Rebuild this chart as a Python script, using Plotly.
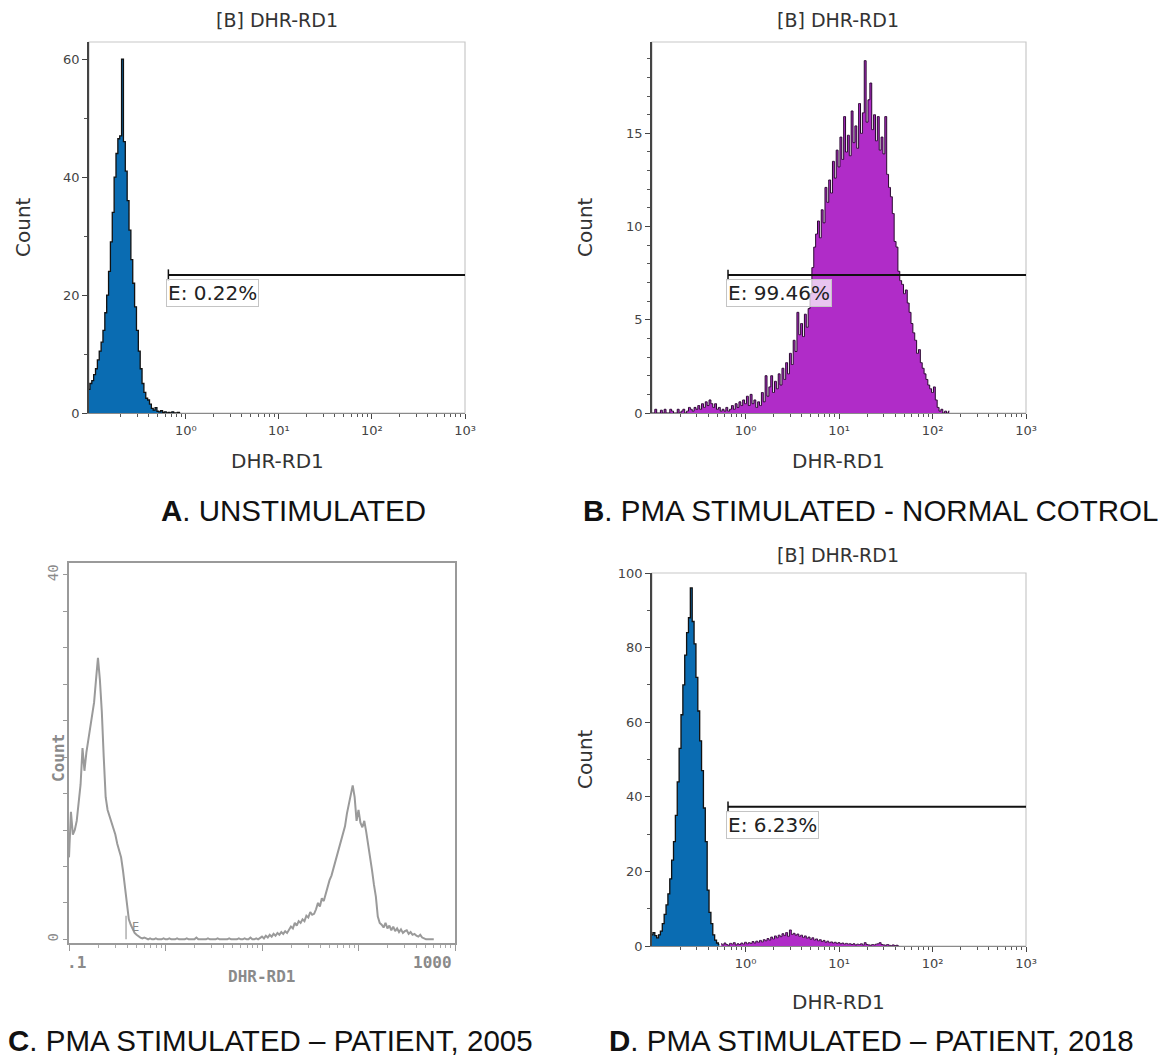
import math
import plotly.graph_objects as go

W, H = 1166, 1057

# ---------------- data (bin centres in log10(DHR-RD1), counts) ----------------
a_start, a_step = -1.04, 0.02
a_counts = [4, 5, 5.5, 6.5, 7.5, 9, 10.5, 12, 14, 17,
            20, 24, 29, 34, 40, 44, 46.5, 47, 60, 46,
            41, 36, 31, 26, 22, 18, 14, 10.5, 7.5, 5,
            3.5, 2.5, 2.2, 1.5, 0.8, 0.5, 0.9, 0.3, 0.2, 0.4,
            0.1, 0.2, 0, 0.1, 0, 0.2, 0, 0, 0.1, 0]

b_start, b_step = -1.00, 0.02
b_counts = [0, 0, 0.2, 0, 0, 0.15, 0, 0.2, 0, 0,
            0.2, 0.1, 0, 0, 0.2, 0, 0.1, 0.2, 0, 0.1,
            0.3, 0.2, 0.1, 0.3, 0.2, 0.4, 0.2, 0.5, 0.3, 0.6,
            0.4, 0.7, 0.5, 0.3, 0.5, 0.2, 0.3, 0.1, 0.2, 0.1,
            0.3, 0.1, 0.2, 0.4, 0.2, 0.5, 0.3, 0.6, 0.4, 0.7,
            0.5, 0.9, 0.4, 1.0, 0.5, 0.7, 0.3, 0.6, 0.4, 1.1,
            0.6, 2.0, 0.9, 1.4, 2.0, 1.1, 1.7, 1.3, 2.1, 1.5,
            2.4, 1.8, 2.7, 2.1, 3.2, 2.6, 3.9, 3.3, 5.4, 4.2,
            4.8, 4.1, 5.3, 4.6, 5.6, 6.4, 7.8, 8.9, 9.6, 10.3,
            9.4, 10.9, 10.2, 12.1, 11.3, 12.5, 11.8, 13.5, 12.6, 14.1,
            13.2, 14.8, 13.6, 15.9, 14.0, 14.9, 13.8, 16.2, 14.5, 15.4,
            14.2, 16.6, 15.0, 16.1, 18.9, 15.6, 16.8, 17.7, 15.2, 16.0,
            14.6, 15.9, 14.1, 14.8, 13.9, 15.9, 12.8, 12.1, 11.6, 10.7,
            9.2, 8.9, 7.6, 7.1, 6.9, 6.4, 6.6, 5.9, 5.4, 4.8,
            4.3, 3.9, 3.2, 3.4, 2.7, 2.4, 2.1, 1.8, 1.5, 1.3,
            1.1, 1.4, 0.7, 0.3, 0.1, 0.2, 0, 0.1, 0, 0.1]

c_start, c_step = -1.00, 0.02
c_counts = [9, 14, 11.5, 12, 13, 15, 17, 21, 18.5, 20.5,
            22, 23.5, 24.5, 26, 28.5, 30.9, 28.5, 25, 20, 15.6,
            14.2, 13.5, 13, 12.3, 11.5, 10.5, 9.8, 9, 7.5, 5.5,
            3.5, 2.2, 1.6, 1.1, 0.7, 0.5, 0.3, 0.2, 0.1, 0.2,
            0.1, 0, 0.1, 0, 0, 0.1, 0, 0, 0, 0.1,
            0, 0, 0.1, 0, 0, 0, 0.1, 0, 0, 0,
            0, 0.1, 0, 0, 0, 0, 0.2, 0, 0, 0,
            0, 0, 0.1, 0, 0, 0, 0, 0.1, 0, 0,
            0, 0, 0, 0.1, 0, 0, 0, 0, 0.1, 0,
            0, 0.1, 0, 0, 0.2, 0, 0, 0.1, 0, 0.2,
            0.3, 0.1, 0.4, 0.2, 0.5, 0.3, 0.6, 0.4, 0.7, 0.5,
            0.8, 0.6, 0.9, 0.7, 1.1, 1.4, 1.2, 1.8, 1.5, 2.0,
            1.8, 2.2, 2.0, 2.6, 2.4, 3.0, 2.7, 2.8, 3.3, 4.0,
            3.6, 4.5, 4.2, 5.0, 5.8, 6.5, 7.0, 7.8, 8.3, 9.2,
            10.1, 10.8, 11.6, 12.4, 13.8, 14.8, 15.6, 16.9, 15.6, 13.0,
            14.2, 12.8, 12.3, 13.0, 11.8, 10.5, 9.2, 7.6, 6.0, 4.7,
            2.5, 1.8, 1.6, 1.3, 1.8, 1.2, 1.5, 1.0, 1.4, 0.9,
            1.2, 0.8, 1.1, 0.7, 0.9, 1.0, 0.6, 0.8, 0.5, 0.6,
            0.4, 0.3, 0.5, 0.2, 0.1, 0, 0, 0, 0, 0]

d_blue_start, d_step = -1.00, 0.02
d_blue_counts = [3.0, 3.6, 2.8, 2.2, 3.0, 4.0, 6.0, 8.5, 11, 14,
                 18, 23, 28, 35, 44, 53, 62, 70, 78, 84,
                 88, 96, 87, 81, 72, 63, 55, 47, 37, 28,
                 15, 9, 6, 3, 1.6, 0.8, 0.4]
d_purple_start = -0.26
d_purple_counts = [0.6, 0.3, 0.8, 0.4, 0.2, 0.7, 0.5, 0.9, 0.3, 0.6,
                   0.4, 0.8, 0.5, 1.0, 0.6, 0.9, 0.7, 1.2, 0.8, 1.3,
                   1.0, 1.5, 1.1, 1.7, 1.4, 2.0, 1.6, 2.4, 1.9, 2.7,
                   2.2, 2.9, 2.5, 3.3, 2.8, 3.6, 2.6, 4.3, 3.1, 3.4,
                   2.9, 3.2, 2.6, 2.9, 2.3, 2.7, 2.1, 2.4, 1.8, 2.2,
                   1.6, 1.9, 1.4, 1.7, 1.2, 1.5, 1.0, 1.3, 0.9, 1.1,
                   0.8, 1.0, 0.7, 0.9, 0.6, 0.8, 0.5, 0.7, 0.5, 0.6,
                   0.4, 0.6, 0.3, 0.5, 0.4, 0.6, 0.3, 0.9, 0.4, 0.3,
                   0.2, 0.4, 0.3, 0.5, 0.6, 0.9, 0.4, 0.3, 0.2, 0.4,
                   0.2, 0.1, 0.3, 0.1, 0.2, 0]

gate_start = 0.65
gate_levels = {"A": 23.4, "B": 7.4, "D": 37.3}
gate_labels = {"A": "E: 0.22%", "B": "E: 99.46%", "D": "E: 6.23%"}

x_tickvals = [1, 10, 100, 1000]
x_ticktext = ["10\u2070", "10\u00b9", "10\u00b2", "10\u00b3"]

captions = {
    "A": "<b>A</b>. UNSTIMULATED",
    "B": "<b>B</b>. PMA STIMULATED - NORMAL COTROL",
    "C": "<b>C</b>. PMA STIMULATED \u2013 PATIENT, 2005",
    "D": "<b>D</b>. PMA STIMULATED \u2013 PATIENT, 2018",
}

BLUE = "#0A6CB2"
PURPLE = "#B02CC8"


def xs(start, step, counts):
    return [10 ** round(start + step * i, 3) for i in range(len(counts))]


minor_log = [m * 10 ** k for k in range(-1, 3) for m in range(2, 10)]

# the page body has an 8 px margin, so the figure is drawn 8 px right/down
OX, OY = 8.0, 8.0


def fx(px):
    return (px - OX) / W


def fy(py):
    return 1 - (py - OY) / H


fig = go.Figure()

# ---- histograms ----
fig.add_trace(go.Scatter(x=xs(a_start, a_step, a_counts), y=a_counts, mode="lines",
                         line=dict(shape="hvh", color="#111", width=1.3),
                         fill="tozeroy", fillcolor=BLUE, xaxis="x", yaxis="y"))
fig.add_trace(go.Scatter(x=xs(b_start, b_step, b_counts), y=b_counts, mode="lines",
                         line=dict(shape="hvh", color="#2a0830", width=1),
                         fill="tozeroy", fillcolor=PURPLE, xaxis="x2", yaxis="y2"))
fig.add_trace(go.Scatter(x=xs(c_start, c_step, c_counts), y=c_counts, mode="lines",
                         line=dict(color="#9a9a9a", width=2),
                         xaxis="x3", yaxis="y3"))
fig.add_trace(go.Scatter(x=xs(d_blue_start, d_step, d_blue_counts), y=d_blue_counts, mode="lines",
                         line=dict(shape="hvh", color="#111", width=1.3),
                         fill="tozeroy", fillcolor=BLUE, xaxis="x4", yaxis="y4"))
fig.add_trace(go.Scatter(x=xs(d_purple_start, d_step, d_purple_counts), y=d_purple_counts, mode="lines",
                         line=dict(shape="hvh", color="#3a1040", width=1),
                         fill="tozeroy", fillcolor=PURPLE, xaxis="x4", yaxis="y4"))

# ---- gates ----
for key, ax, half in (("A", "", 0.95), ("B", "2", 0.28), ("D", "4", 1.45)):
    g = gate_levels[key]
    fig.add_trace(go.Scatter(x=[gate_start, 1000], y=[g, g], mode="lines",
                             line=dict(color="#111", width=2), xaxis="x" + ax, yaxis="y" + ax))
    fig.add_trace(go.Scatter(x=[gate_start, gate_start], y=[g - half, g + half], mode="lines",
                             line=dict(color="#111", width=1.5), xaxis="x" + ax, yaxis="y" + ax))

# C gate marker
fig.add_trace(go.Scatter(x=[0.39, 0.39], y=[0, 2.6], mode="lines",
                         line=dict(color="#9a9a9a", width=1.2), xaxis="x3", yaxis="y3"))


def dom_x(a, b):
    return [fx(a), fx(b)]


def dom_y(top, bottom):
    return [fy(bottom), fy(top)]


tick_font = dict(family="DejaVu Sans", size=13, color="#444")
mono_font = dict(family="DejaVu Sans Mono", size=14, color="#8a8a8a")


def log_x(domain, rng, anchor):
    return dict(type="log", domain=domain, range=rng, anchor=anchor, automargin=False,
                tickvals=x_tickvals, ticktext=x_ticktext, ticks="outside", ticklen=5,
                tickcolor="#444", tickfont=tick_font, showgrid=False, zeroline=False,
                showline=True, linecolor="#8a8a8a", linewidth=1.2,
                minor=dict(tickvals=minor_log, ticks="outside", ticklen=3, tickcolor="#555",
                           showgrid=False))


def lin_y(domain, rng, anchor, major, minor):
    return dict(domain=domain, range=rng, anchor=anchor, automargin=False, tickvals=major,
                ticks="outside", ticklen=5, tickcolor="#444", tickfont=tick_font,
                showgrid=False, zeroline=False, showline=True, linecolor="#444", linewidth=1.5,
                minor=dict(dtick=minor, ticks="outside", ticklen=3, tickcolor="#555",
                           showgrid=False))


dA_x, dA_y = dom_x(89, 465), dom_y(42, 413)
dB_x, dB_y = dom_x(652, 1026), dom_y(42, 413)
dC_x, dC_y = dom_x(69, 455), dom_y(563, 943)
dD_x, dD_y = dom_x(652, 1026), dom_y(573, 946)

layout = dict(
    width=W, height=H, margin=dict(l=0, r=0, t=0, b=0, pad=0),
    paper_bgcolor="white", plot_bgcolor="white", showlegend=False,
    xaxis=log_x(dA_x, [-1.04, 3.0], "y"),
    yaxis=lin_y(dA_y, [0, 62.9], "x", [0, 20, 40, 60], 10),
    xaxis2=log_x(dB_x, [-1.0, 3.0], "y2"),
    yaxis2=lin_y(dB_y, [0, 19.9], "x2", [0, 5, 10, 15], 1),
    xaxis4=log_x(dD_x, [-1.0, 3.0], "y4"),
    yaxis4=lin_y(dD_y, [0, 100], "x4", [0, 20, 40, 60, 80, 100], 10),
    xaxis3=dict(type="log", domain=dC_x, range=[-1, 3], anchor="y3", automargin=False,
                tickvals=[0.1, 1, 10, 100, 1000], showticklabels=False,
                ticks="outside", ticklen=6, tickcolor="#999", showgrid=False, zeroline=False,
                showline=True, mirror=True, linecolor="#9a9a9a", linewidth=1.5,
                minor=dict(tickvals=minor_log, ticks="outside", ticklen=3, tickcolor="#aaa",
                           showgrid=False)),
    yaxis3=dict(domain=dC_y, range=[-0.4, 41.3], anchor="x3", automargin=False,
                tickvals=list(range(0, 41, 4)),
                ticktext=["0"] + [""] * 9 + ["40"], tickangle=-90,
                ticks="outside", ticklen=4, tickcolor="#999", tickfont=mono_font,
                showgrid=False, zeroline=False, showline=True, mirror=True,
                linecolor="#9a9a9a", linewidth=1.5),
)
fig.update_layout(**layout)

# light frames for A, B, D
for ax in ("", "2", "4"):
    fig.add_shape(type="rect", xref=f"x{ax} domain", yref=f"y{ax} domain",
                  x0=0, x1=1, y0=0, y1=1, line=dict(color="#c8c8c8", width=1.2), layer="below")

ann = []
title_font = dict(family="DejaVu Sans", size=19, color="#333")
axis_font = dict(family="DejaVu Sans", size=20, color="#333")


def P(x, y, yanchor="middle"):
    return dict(x=fx(x), y=fy(y), xref="paper", yref="paper", showarrow=False,
                xanchor="center", yanchor=yanchor)


# panel titles & axis titles
ann.append(dict(**P(277, 8.5, "top"), text="[B] DHR-RD1", font=title_font, borderpad=0))
ann.append(dict(**P(838, 8.5, "top"), text="[B] DHR-RD1", font=title_font, borderpad=0))
ann.append(dict(**P(838, 555), text="[B] DHR-RD1", font=title_font))
for cx, xy, cy_count, cx_count in ((277, 461, 227, 23),
                                   (838, 461, 227, 585),
                                   (838, 1002, 759, 585)):
    ann.append(dict(**P(cx, xy), text="DHR-RD1", font=axis_font))
    ann.append(dict(**P(cx_count, cy_count), text="Count", textangle=-90, font=axis_font))

# gate labels
for key, ax in (("A", ""), ("B", "2"), ("D", "4")):
    ann.append(dict(x=math.log10(gate_start), y=gate_levels[key], xref="x" + ax, yref="y" + ax,
                    text=gate_labels[key], showarrow=False, xanchor="left", yanchor="top",
                    xshift=-2, yshift=-4, bgcolor="rgba(255,255,255,0.72)",
                    bordercolor="#c4c4c4", borderwidth=1, borderpad=1,
                    font=dict(family="DejaVu Sans", size=20, color="#222")))

# panel C texts
monob = dict(family="DejaVu Sans Mono", size=16, color="#8a8a8a")
ann.append(dict(**P(58, 758), text="<b>Count</b>", textangle=-90, font=monob))
ann.append(dict(**P(261, 976), text="<b>DHR-RD1</b>", font=monob))
ann.append(dict(**P(76, 962), text="<b>.1</b>", font=monob))
ann.append(dict(**P(432, 962), text="<b>1000</b>", font=monob))
ann.append(dict(**P(135, 927), text="E", font=dict(family="DejaVu Sans Mono", size=12, color="#8a8a8a")))

# captions
cap_font = dict(family="Liberation Sans", size=29.5, color="#111")
ann.append(dict(**P(293, 510), text=captions["A"], font=cap_font))
ann.append(dict(**P(870, 510), text=captions["B"], font=cap_font))
ann.append(dict(**P(270, 1040), text=captions["C"], font=cap_font))
ann.append(dict(**P(871, 1040), text=captions["D"], font=cap_font))

fig.update_layout(annotations=ann)
fig.write_html("out.html")
